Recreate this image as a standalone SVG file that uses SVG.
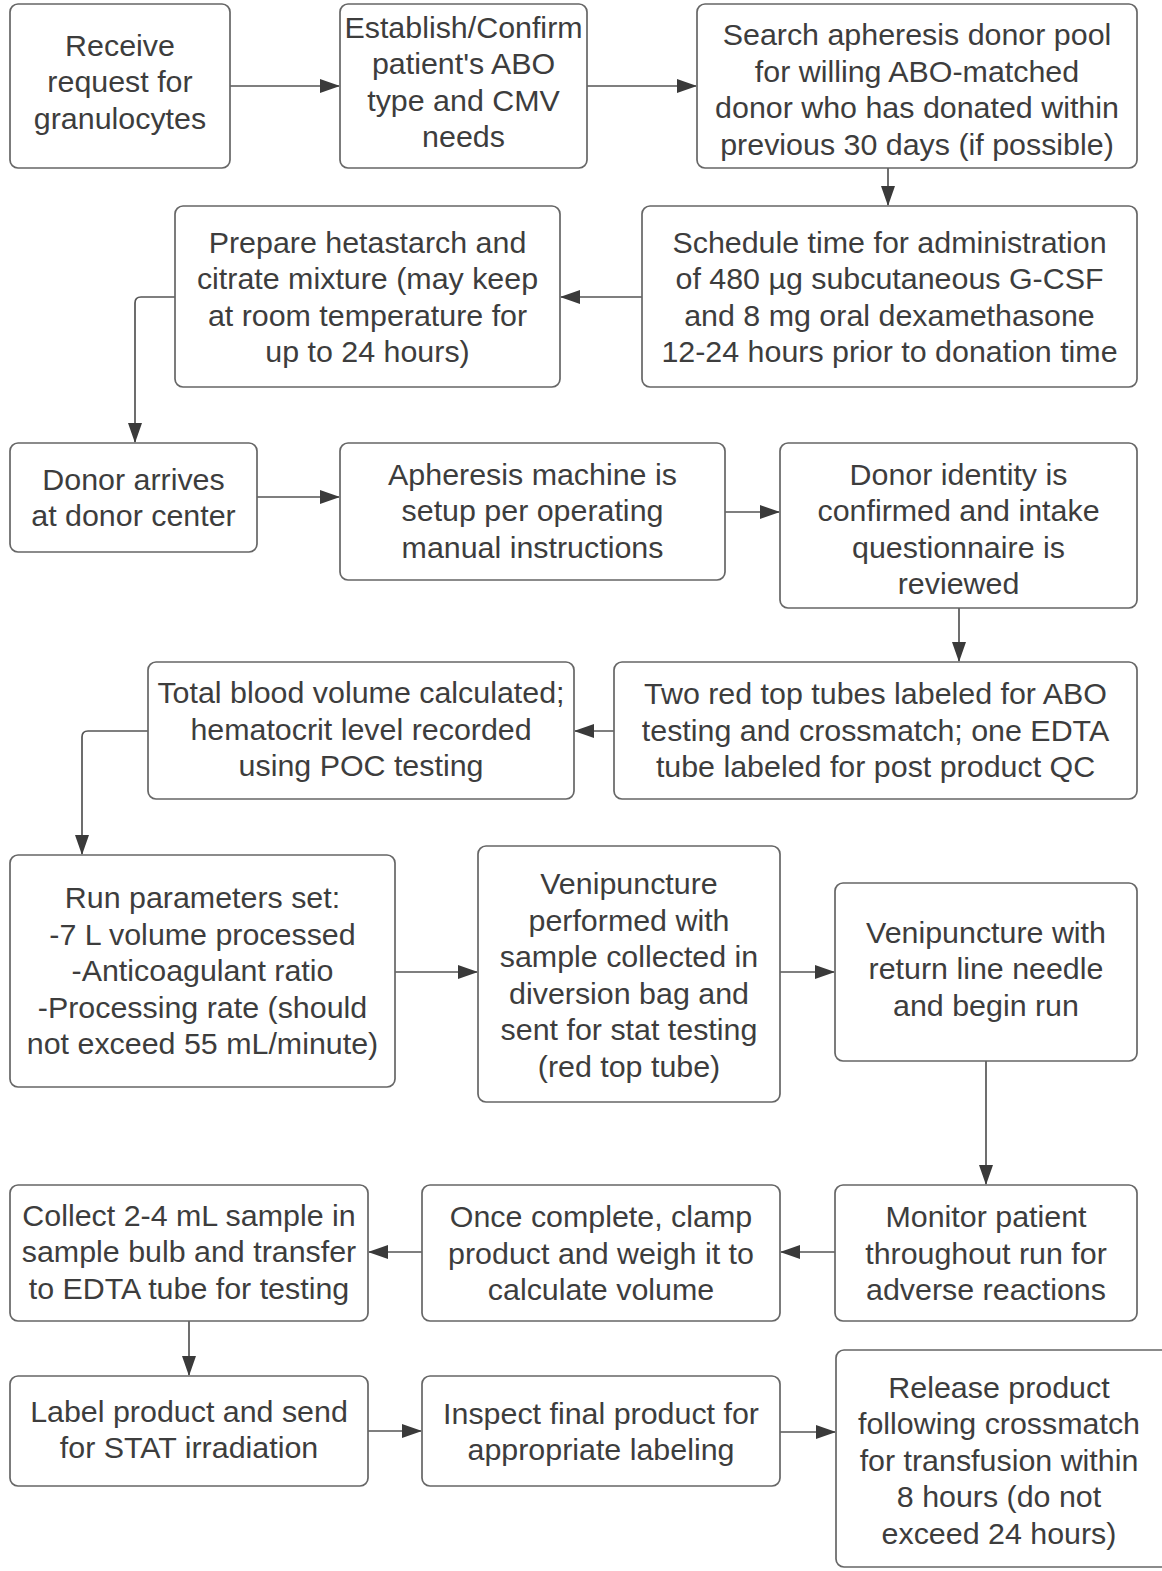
<svg xmlns="http://www.w3.org/2000/svg" width="1162" height="1571" viewBox="0 0 1162 1571">
<style>
.box{fill:#fff;stroke:#666;stroke-width:1.7}
.t{font-family:"Liberation Sans",Arial,sans-serif;font-size:30.4px;fill:#3d3d3d;text-anchor:middle}
.c{fill:none;stroke:#555;stroke-width:1.7}
</style>
<defs>
<marker id="ah" markerUnits="userSpaceOnUse" markerWidth="20" markerHeight="14" refX="19" refY="7" orient="auto">
<path d="M0,0 L20,7 L0,14 z" fill="#3a3a3a"/>
</marker>
</defs>
<rect width="1162" height="1571" fill="#fff"/>
<g id="connectors">
<path class="c" d="M230,86 H339" marker-end="url(#ah)"/>
<path class="c" d="M587,86 H696" marker-end="url(#ah)"/>
<path class="c" d="M888,168 V205" marker-end="url(#ah)"/>
<path class="c" d="M642,297 H561" marker-end="url(#ah)"/>
<path class="c" d="M175,297 H141 Q135,297 135,303 V442" marker-end="url(#ah)"/>
<path class="c" d="M257,497 H339" marker-end="url(#ah)"/>
<path class="c" d="M725,512 H779" marker-end="url(#ah)"/>
<path class="c" d="M959,608 V661" marker-end="url(#ah)"/>
<path class="c" d="M614,731 H575" marker-end="url(#ah)"/>
<path class="c" d="M148,731 H88 Q82,731 82,737 V854" marker-end="url(#ah)"/>
<path class="c" d="M395,972 H477" marker-end="url(#ah)"/>
<path class="c" d="M780,972 H834" marker-end="url(#ah)"/>
<path class="c" d="M986,1061 V1184" marker-end="url(#ah)"/>
<path class="c" d="M835,1252 H781" marker-end="url(#ah)"/>
<path class="c" d="M422,1252 H369" marker-end="url(#ah)"/>
<path class="c" d="M189,1321 V1375" marker-end="url(#ah)"/>
<path class="c" d="M368,1431 H421" marker-end="url(#ah)"/>
<path class="c" d="M780,1432 H835" marker-end="url(#ah)"/>
</g>
<g id="n1"><rect class="box" x="10" y="4" width="220" height="164" rx="8"/>
<text class="t" x="120" y="55.5"><tspan x="120">Receive</tspan><tspan x="120" dy="36.5">request for</tspan><tspan x="120" dy="36.5">granulocytes</tspan></text></g>
<g id="n2"><rect class="box" x="340" y="4" width="247" height="164" rx="8"/>
<text class="t" x="463.5" y="37.5"><tspan x="463.5">Establish/Confirm</tspan><tspan x="463.5" dy="36.5">patient's ABO</tspan><tspan x="463.5" dy="36.5">type and CMV</tspan><tspan x="463.5" dy="36.5">needs</tspan></text></g>
<g id="n3"><rect class="box" x="697" y="4" width="440" height="164" rx="8"/>
<text class="t" x="917" y="45"><tspan x="917">Search apheresis donor pool</tspan><tspan x="917" dy="36.5">for willing ABO-matched</tspan><tspan x="917" dy="36.5">donor who has donated within</tspan><tspan x="917" dy="36.5">previous 30 days (if possible)</tspan></text></g>
<g id="n4"><rect class="box" x="175" y="206" width="385" height="181" rx="8"/>
<text class="t" x="367.5" y="252.5"><tspan x="367.5">Prepare hetastarch and</tspan><tspan x="367.5" dy="36.5">citrate mixture (may keep</tspan><tspan x="367.5" dy="36.5">at room temperature for</tspan><tspan x="367.5" dy="36.5">up to 24 hours)</tspan></text></g>
<g id="n5"><rect class="box" x="642" y="206" width="495" height="181" rx="8"/>
<text class="t" x="889.5" y="252.5"><tspan x="889.5">Schedule time for administration</tspan><tspan x="889.5" dy="36.5">of 480 µg subcutaneous G-CSF</tspan><tspan x="889.5" dy="36.5">and 8 mg oral dexamethasone</tspan><tspan x="889.5" dy="36.5">12-24 hours prior to donation time</tspan></text></g>
<g id="n6"><rect class="box" x="10" y="443" width="247" height="109" rx="8"/>
<text class="t" x="133.5" y="489.5"><tspan x="133.5">Donor arrives</tspan><tspan x="133.5" dy="36.5">at donor center</tspan></text></g>
<g id="n7"><rect class="box" x="340" y="443" width="385" height="137" rx="8"/>
<text class="t" x="532.5" y="484.5"><tspan x="532.5">Apheresis machine is</tspan><tspan x="532.5" dy="36.5">setup per operating</tspan><tspan x="532.5" dy="36.5">manual instructions</tspan></text></g>
<g id="n8"><rect class="box" x="780" y="443" width="357" height="165" rx="8"/>
<text class="t" x="958.5" y="484.5"><tspan x="958.5">Donor identity is</tspan><tspan x="958.5" dy="36.5">confirmed and intake</tspan><tspan x="958.5" dy="36.5">questionnaire is</tspan><tspan x="958.5" dy="36.5">reviewed</tspan></text></g>
<g id="n9"><rect class="box" x="614" y="662" width="523" height="137" rx="8"/>
<text class="t" x="875.5" y="704"><tspan x="875.5">Two red top tubes labeled for ABO</tspan><tspan x="875.5" dy="36.5">testing and crossmatch; one EDTA</tspan><tspan x="875.5" dy="36.5">tube labeled for post product QC</tspan></text></g>
<g id="n10"><rect class="box" x="148" y="662" width="426" height="137" rx="8"/>
<text class="t" x="361" y="703"><tspan x="361">Total blood volume calculated;</tspan><tspan x="361" dy="36.5">hematocrit level recorded</tspan><tspan x="361" dy="36.5">using POC testing</tspan></text></g>
<g id="n11"><rect class="box" x="10" y="855" width="385" height="232" rx="8"/>
<text class="t" x="202.5" y="908"><tspan x="202.5">Run parameters set:</tspan><tspan x="202.5" dy="36.5">-7 L volume processed</tspan><tspan x="202.5" dy="36.5">-Anticoagulant ratio</tspan><tspan x="202.5" dy="36.5">-Processing rate (should</tspan><tspan x="202.5" dy="36.5">not exceed 55 mL/minute)</tspan></text></g>
<g id="n12"><rect class="box" x="478" y="846" width="302" height="256" rx="8"/>
<text class="t" x="629" y="894"><tspan x="629">Venipuncture</tspan><tspan x="629" dy="36.5">performed with</tspan><tspan x="629" dy="36.5">sample collected in</tspan><tspan x="629" dy="36.5">diversion bag and</tspan><tspan x="629" dy="36.5">sent for stat testing</tspan><tspan x="629" dy="36.5">(red top tube)</tspan></text></g>
<g id="n13"><rect class="box" x="835" y="883" width="302" height="178" rx="8"/>
<text class="t" x="986" y="942.5"><tspan x="986">Venipuncture with</tspan><tspan x="986" dy="36.5">return line needle</tspan><tspan x="986" dy="36.5">and begin run</tspan></text></g>
<g id="n14"><rect class="box" x="10" y="1185" width="358" height="136" rx="8"/>
<text class="t" x="189" y="1225.5"><tspan x="189">Collect 2-4 mL sample in</tspan><tspan x="189" dy="36.5">sample bulb and transfer</tspan><tspan x="189" dy="36.5">to EDTA tube for testing</tspan></text></g>
<g id="n15"><rect class="box" x="422" y="1185" width="358" height="136" rx="8"/>
<text class="t" x="601" y="1227"><tspan x="601">Once complete, clamp</tspan><tspan x="601" dy="36.5">product and weigh it to</tspan><tspan x="601" dy="36.5">calculate volume</tspan></text></g>
<g id="n16"><rect class="box" x="835" y="1185" width="302" height="136" rx="8"/>
<text class="t" x="986" y="1227"><tspan x="986">Monitor patient</tspan><tspan x="986" dy="36.5">throughout run for</tspan><tspan x="986" dy="36.5">adverse reactions</tspan></text></g>
<g id="n17"><rect class="box" x="10" y="1376" width="358" height="110" rx="8"/>
<text class="t" x="189" y="1421.5"><tspan x="189">Label product and send</tspan><tspan x="189" dy="36.5">for STAT irradiation</tspan></text></g>
<g id="n18"><rect class="box" x="422" y="1376" width="358" height="110" rx="8"/>
<text class="t" x="601" y="1423.5"><tspan x="601">Inspect final product for</tspan><tspan x="601" dy="36.5">appropriate labeling</tspan></text></g>
<g id="n19"><rect class="box" x="836" y="1350" width="334" height="217" rx="8"/>
<text class="t" x="999" y="1397.5"><tspan x="999">Release product</tspan><tspan x="999" dy="36.5">following crossmatch</tspan><tspan x="999" dy="36.5">for transfusion within</tspan><tspan x="999" dy="36.5">8 hours (do not</tspan><tspan x="999" dy="36.5">exceed 24 hours)</tspan></text></g>
</svg>
